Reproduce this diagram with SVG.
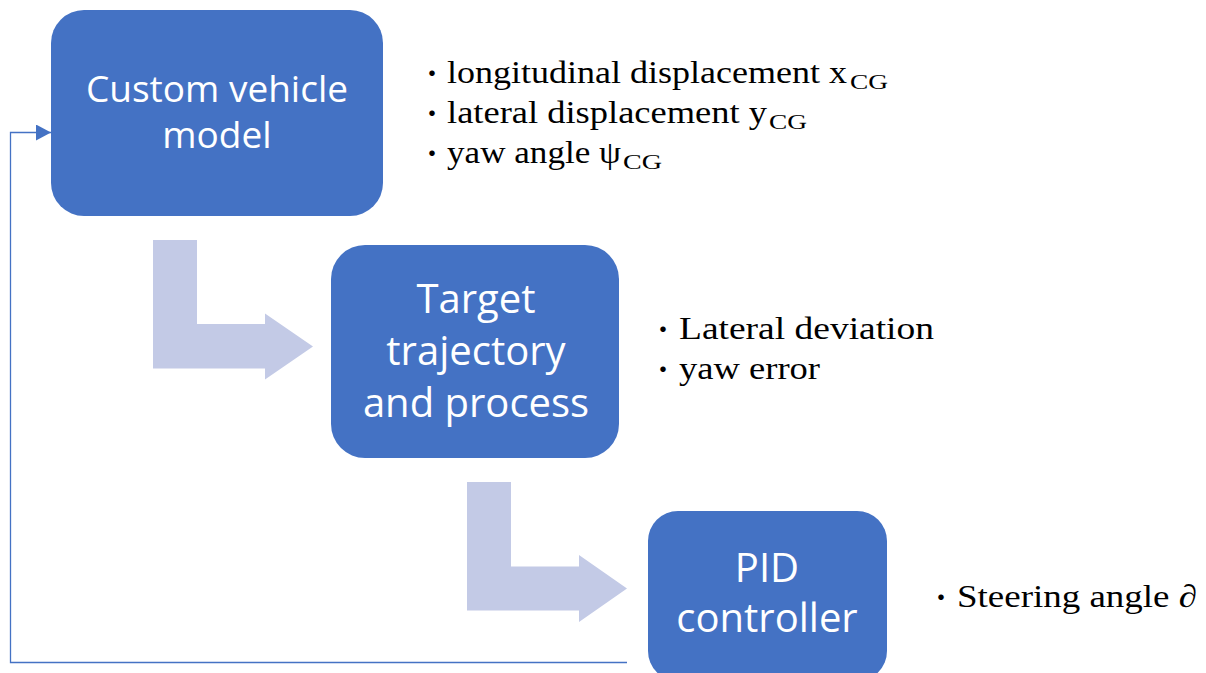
<svg xmlns="http://www.w3.org/2000/svg" width="1206" height="673" viewBox="0 0 1206 673">
  <defs>
    <style>
      .box { fill: #4472C4; }
      .boxtxt { font-family: "Open Sans", "Liberation Sans", sans-serif; fill: #FFFFFF; text-anchor: middle; }
      .lbl { font-family: "Liberation Serif", "DejaVu Serif", serif; font-size: 32px; fill: #000000; }
      .sub { font-family: "Liberation Serif", "DejaVu Serif", serif; font-size: 21px; fill: #000000; }
      .bul { font-family: "Noto Sans CJK JP", "DejaVu Sans", sans-serif; font-size: 26px; fill: #000000; text-anchor: middle; }
      .flow { fill: #C3CAE6; }
      .fb { fill: none; stroke: #4472C4; stroke-width: 1.3; }
    </style>
    <marker id="arr" markerUnits="userSpaceOnUse" markerWidth="16" markerHeight="16" viewBox="0 0 16 16" refX="15" refY="8" orient="auto">
      <path d="M0,0 L15,8 L0,16 Z" fill="#4472C4"/>
    </marker>
  </defs>

  <g id="connectors">
    <polygon class="flow" points="153,240 197,240 197,324 265,324 265,313.5 313,346.5 265,379.5 265,368.5 153,368.5"/>
    <polygon class="flow" points="467,482 511,482 511,566.5 579,566.5 579,555 627,588.5 579,622 579,610.5 467,610.5"/>
    <polyline class="fb" points="627,662.5 10.5,662.5 10.5,132.5 51,132.5" marker-end="url(#arr)"/>
  </g>

  <g id="node-vehicle-model">
    <rect class="box" x="51" y="10" width="332" height="206" rx="33" ry="33"/>
    <text class="boxtxt" font-size="37" x="217" y="102">Custom vehicle</text>
    <text class="boxtxt" font-size="37" x="217" y="148">model</text>
  </g>

  <g id="node-target-trajectory">
    <rect class="box" x="331" y="245" width="288" height="213" rx="34" ry="34"/>
    <text class="boxtxt" font-size="40" x="476" y="313">Target</text>
    <text class="boxtxt" font-size="40" x="476" y="365">trajectory</text>
    <text class="boxtxt" font-size="40" x="476" y="417">and process</text>
  </g>

  <g id="node-pid">
    <rect class="box" x="648" y="511" width="239" height="170" rx="30" ry="30"/>
    <text class="boxtxt" font-size="40" x="767" y="582">PID</text>
    <text class="boxtxt" font-size="40" x="767" y="632">controller</text>
  </g>

  <g id="labels-vehicle-outputs">
    <text class="bul" x="432" y="83">・</text>
    <text class="lbl" x="447" y="83" textLength="400" lengthAdjust="spacingAndGlyphs">longitudinal displacement x</text>
    <text class="sub" x="850" y="89" textLength="38" lengthAdjust="spacingAndGlyphs">CG</text>
    <text class="bul" x="432" y="123">・</text>
    <text class="lbl" x="447" y="123" textLength="320" lengthAdjust="spacingAndGlyphs">lateral displacement y</text>
    <text class="sub" x="769" y="129" textLength="38" lengthAdjust="spacingAndGlyphs">CG</text>
    <text class="bul" x="432" y="163">・</text>
    <text class="lbl" x="447" y="163" textLength="174" lengthAdjust="spacingAndGlyphs">yaw angle ψ</text>
    <text class="sub" x="623" y="169" textLength="39" lengthAdjust="spacingAndGlyphs">CG</text>
  </g>

  <g id="labels-trajectory-outputs">
    <text class="bul" x="663" y="339">・</text>
    <text class="lbl" x="679" y="339" textLength="255" lengthAdjust="spacingAndGlyphs">Lateral deviation</text>
    <text class="bul" x="663" y="379">・</text>
    <text class="lbl" x="679" y="379" textLength="141" lengthAdjust="spacingAndGlyphs">yaw error</text>
  </g>

  <g id="labels-pid-outputs">
    <text class="bul" x="941" y="607">・</text>
    <text class="lbl" x="957" y="607" textLength="240" lengthAdjust="spacingAndGlyphs">Steering angle ∂</text>
  </g>
</svg>
